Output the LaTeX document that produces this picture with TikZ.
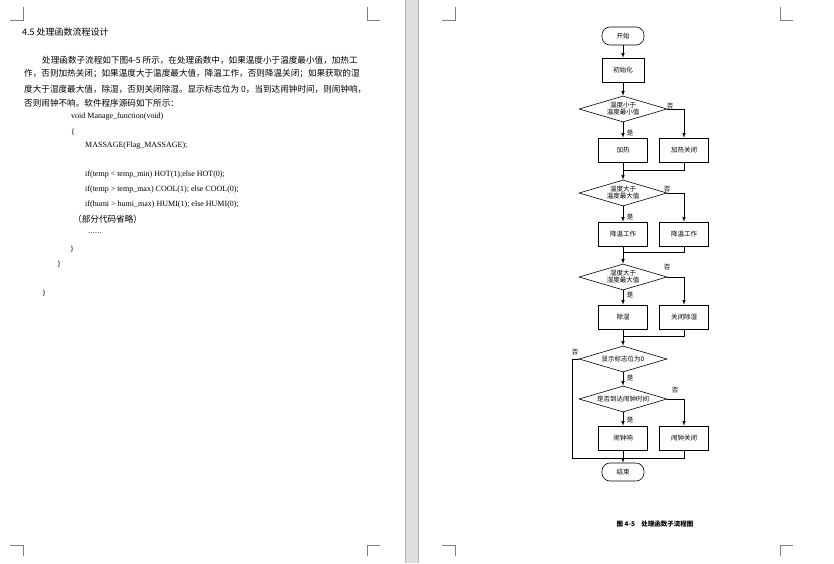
\documentclass[tikz,border=0pt]{standalone}
\usepackage{fontspec}
\setmainfont{Liberation Serif}
\newfontfamily\cjk{Noto Sans CJK SC}
\usetikzlibrary{shapes.geometric}
\begin{document}
\begin{tikzpicture}[x=1pt,y=-1pt,
 box/.style={draw,line width=0.6pt,minimum width=49pt,minimum height=24pt,font=\cjk\fontsize{6.5}{7}\selectfont},
 term/.style={draw,line width=0.6pt,rounded corners=8pt,minimum width=42pt,minimum height=18pt,font=\cjk\fontsize{6.5}{7}\selectfont},
 dia/.style={draw,line width=0.6pt,diamond,aspect=3.5,minimum width=88pt,minimum height=26pt,inner sep=0pt,align=center,font=\cjk\fontsize{6.5}{7}\selectfont},
 ln/.style={line width=0.6pt},
 ar/.style={line width=0.6pt,-latex},
 lab/.style={font=\cjk\fontsize{6.5}{7}\selectfont,inner sep=0pt},
 tx/.style={anchor=west,inner sep=0pt,font=\cjk\fontsize{8.6}{9}\selectfont},
 cd/.style={anchor=west,inner sep=0pt,font=\fontsize{8}{9}\selectfont},
 mk/.style={line width=0.5pt,gray}]
\useasboundingbox (0,0) rectangle (834,563);
\fill[white] (0,0) rectangle (834,563);
\fill[gray!25] (405,0) rectangle (418,563);
\draw[gray!60] (405,0)--(405,563) (418,0)--(418,563);
% corner marks
\foreach \a/\b in {23/367, 455/780}{
 \draw[mk] (\a,7)--(\a,20)--(\a-13,20);
 \draw[mk] (\b,7)--(\b,20)--(\b+13,20);
 \draw[mk] (\a,556)--(\a,545)--(\a-13,545);
 \draw[mk] (\b,556)--(\b,545)--(\b+13,545);
}
% left page text
\node[tx,font=\cjk\fontsize{9}{10}\selectfont] (title) at (22,32) {4.5\ 处理函数流程设计};
\node[tx] (p1) at (42,60) {处理函数子流程如下图4-5 所示，在处理函数中，如果温度小于温度最小值，加热工};
\node[tx] (p2) at (24,74) {作，否则加热关闭；如果温度大于温度最大值，降温工作，否则降温关闭；如果获取的湿};
\node[tx] (p3) at (24,89) {度大于湿度最大值，除湿，否则关闭除湿。显示标志位为 0，当到达闹钟时间，则闹钟响，};
\node[tx] (p4) at (24,103) {否则闹钟不响。软件程序源码如下所示：};
\node[cd] (c1) at (71,117) {void Manage\_function(void)};
\node[cd] (c2) at (71,132) {\{};
\node[cd] (c3) at (85,146) {MASSAGE(Flag\_MASSAGE);};
\node[cd] (c4) at (85,175) {if(temp < temp\_min) HOT(1);else HOT(0);};
\node[cd] (c5) at (85,190) {if(temp > temp\_max) COOL(1); else COOL(0);};
\node[cd] (c6) at (85,205) {if(humi > humi\_max) HUMI(1); else HUMI(0);};
\node[tx] (c7) at (73,219) {（部分代码省略）};
\node[cd] (c8) at (88,233) {.\kern0.3pt.\kern0.3pt.\kern0.3pt.\kern0.3pt.\kern0.3pt.};
\node[cd] (c9) at (70,249) {\}};
\node[cd] (c10) at (57,264) {\}};
\node[cd] (c11) at (42,293) {\}};
% flowchart
\node[term] (s) at (623,36) {开始};
\node[box,minimum width=42pt] (init) at (623,70) {初始化};
\node[dia] (d1) at (623,109) {温度小于\\温度最小值};
\node[box] (h1) at (623,150) {加热};
\node[box] (h2) at (684,150) {加热关闭};
\node[dia] (d2) at (623,193) {温度大于\\温度最大值};
\node[box] (k1) at (623,234) {降温工作};
\node[box] (k2) at (684,234) {降温工作};
\node[dia] (d3) at (623,277) {湿度大于\\湿度最大值};
\node[box] (m1) at (623,317) {除湿};
\node[box] (m2) at (684,317) {关闭除湿};
\node[dia] (d4) at (623,359) {显示标志位为0};
\node[dia] (d5) at (623,399) {是否到达闹钟时间};
\node[box] (a1) at (623,438) {闹钟响};
\node[box] (a2) at (684,438) {闹钟关闭};
\node[term] (e) at (623,472) {结束};
\coordinate (j1) at (623,170);
\coordinate (j2) at (623,252);
\coordinate (j3) at (623,336);
\coordinate (j4) at (623,458);
\draw[ar] (s)--(init);
\draw[ar] (init)--(d1);
\draw[ar] (d1)--(h1);
\draw[ar] (d1.east)-|(h2);
\draw[ln] (h1)--(j1);
\draw[ln] (h2.south)|-(j1);
\draw[ar] (j1)--(d2);
\draw[ar] (d2)--(k1);
\draw[ar] (d2.east)-|(k2);
\draw[ln] (k1)--(j2);
\draw[ln] (k2.south)|-(j2);
\draw[ar] (j2)--(d3);
\draw[ar] (d3)--(m1);
\draw[ar] (d3.east)-|(m2);
\draw[ln] (m1)--(j3);
\draw[ln] (m2.south)|-(j3);
\draw[ar] (j3)--(d4);
\draw[ar] (d4)--(d5);
\draw[ar] (d5)--(a1);
\draw[ar] (d5.east)-|(a2);
\draw[ln] (a1)--(j4);
\draw[ln] (a2.south)|-(j4);
\draw[ln] (d4.west)-|(572,458)--(j4);
\draw[ar] (j4)--(e);
\node[lab] (n1) at (670,106) {否};
\node[lab] (y1) at (630,133) {是};
\node[lab] (n2) at (667,189) {否};
\node[lab] (y2) at (630,217) {是};
\node[lab] (n3) at (667,267) {否};
\node[lab] (y3) at (630,295) {是};
\node[lab] (n4) at (575,352) {否};
\node[lab] (y4) at (630,378) {是};
\node[lab] (n5) at (675,390) {否};
\node[lab] (y5) at (630,420) {是};
\node[lab,font=\cjk\bfseries\fontsize{6.5}{7}\selectfont] (cap) at (655,524) {图 4-5\quad 处理函数子流程图};
\end{tikzpicture}
\end{document}
